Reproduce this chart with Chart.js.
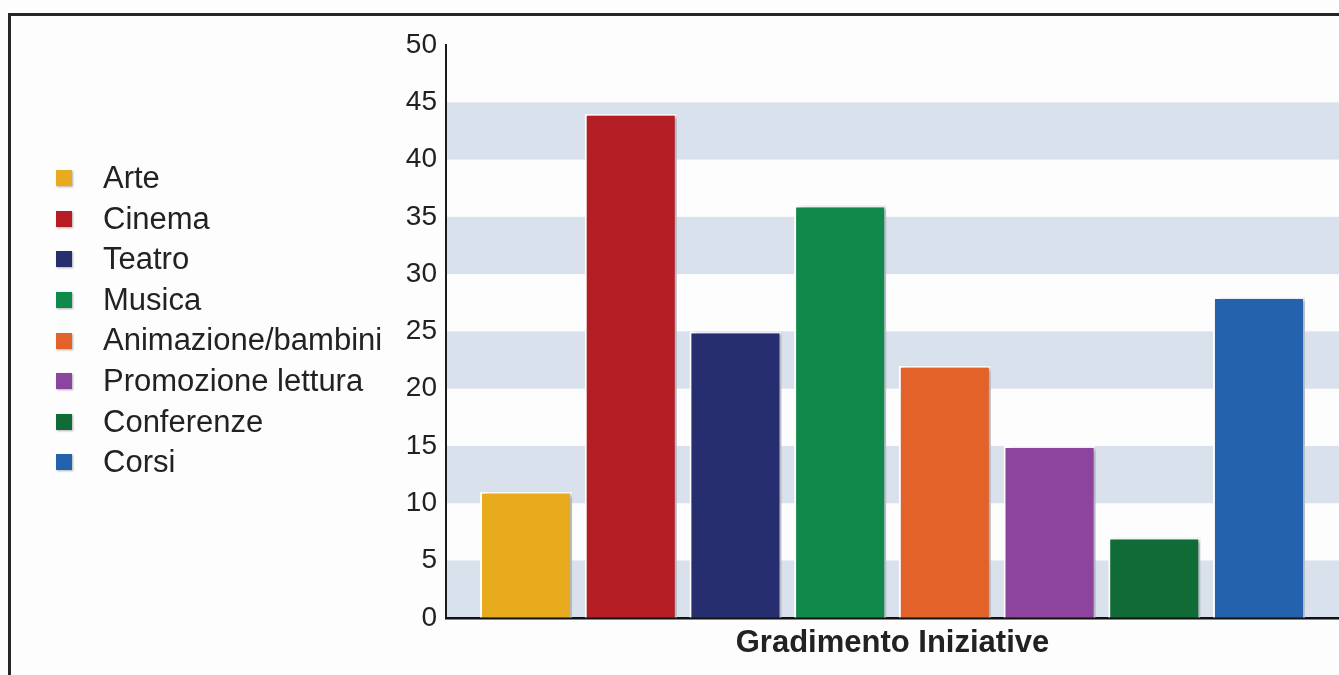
<!DOCTYPE html>
<html lang="it">
<head>
<meta charset="utf-8">
<title>Gradimento Iniziative</title>
<script src="https://cdn.jsdelivr.net/npm/chart.js@4/dist/chart.umd.min.js"></script>
<style>
  html, body { margin: 0; padding: 0; background: #fdfdfd; }
  #wrap { position: relative; width: 1339px; height: 675px; overflow: hidden; }
  #frame {
    position: absolute; left: 8px; top: 13px; right: -10px; bottom: -10px;
    border-top: 3px solid #262626; border-left: 3px solid #262626;
  }
  #grafico { position: absolute; left: 0; top: 0; }
  #legenda {
    position: absolute; left: 56px; top: 158px; margin: 0; padding: 0; list-style: none;
    font-family: "Liberation Sans", Arial, sans-serif; font-size: 31px; color: #222;
  }
  #legenda li { height: 40.6px; line-height: 40.6px; display: flex; align-items: center; white-space: nowrap; }
  #legenda span.box {
    display: inline-block; width: 16px; height: 16px; margin-right: 31px;
    box-shadow: 1px 1px 2px rgba(0, 0, 0, 0.3);
  }
</style>
</head>
<body>
<div id="wrap">
  <div id="frame"></div>
  <canvas id="grafico" width="1339" height="675"></canvas>
  <ul id="legenda"></ul>
</div>
<script>
// categorie e valori
const gruppi = ['Gradimento Iniziative'];
const iniziative = ['Arte', 'Cinema', 'Teatro', 'Musica', 'Animazione/bambini', 'Promozione lettura', 'Conferenze', 'Corsi'];
const gradimento = [11, 44, 25, 36, 22, 15, 7, 28];
const colori = ['#e8ab1e', '#b51d24', '#262e70', '#11894a', '#e2622a', '#8c449c', '#106b36', '#2562ae'];

const fascia = '#d8e1ec';

// fasce alternate dietro le barre (0-5, 10-15, ...)
const fascePlugin = {
    id: 'fasce',
    beforeDraw(chart) {
        const { ctx, chartArea } = chart;
        const y = chart.scales.y;
        ctx.save();
        ctx.fillStyle = fascia;
        for (let v = 0; v < y.max; v += 10) {
            const top = y.getPixelForValue(v + 5);
            const bottom = y.getPixelForValue(v);
            ctx.fillRect(chartArea.left, top, chartArea.right - chartArea.left, bottom - top);
        }
        ctx.restore();
    }
};

// ombra leggera sulle barre
const ombraPlugin = {
    id: 'ombra',
    beforeDatasetsDraw(chart) {
        const ctx = chart.ctx;
        ctx.save();
        ctx.shadowColor = 'rgba(60, 70, 95, 0.4)';
        ctx.shadowOffsetX = 4;
        ctx.shadowOffsetY = 1;
        ctx.shadowBlur = 4;
    },
    afterDatasetsDraw(chart) {
        chart.ctx.restore();
    }
};

const datasets = iniziative.map((nome, i) => ({
    label: nome,
    data: [gradimento[i]],
    backgroundColor: colori[i],
    borderColor: '#ffffff',
    borderWidth: 2,
    categoryPercentage: 0.938,
    barPercentage: 0.879
}));

// legenda html a sinistra
const legenda = document.getElementById('legenda');
iniziative.forEach((nome, i) => {
    const li = document.createElement('li');
    const box = document.createElement('span');
    box.className = 'box';
    box.style.background = colori[i];
    li.appendChild(box);
    li.appendChild(document.createTextNode(nome));
    legenda.appendChild(li);
});

new Chart(document.getElementById('grafico').getContext('2d'), {
    type: 'bar',
    data: { labels: gruppi, datasets: datasets },
    options: {
        responsive: false,
        animation: false,
        layout: { padding: { left: 386, top: 45, right: 0, bottom: 6 } },
        plugins: {
            legend: { display: false },
            tooltip: { enabled: false }
        },
        scales: {
            x: {
                grid: { display: false, drawTicks: false },
                border: { display: true, color: '#111', width: 2.5 },
                ticks: {
                    color: '#222',
                    padding: 7,
                    font: { family: '"Liberation Sans", Arial, sans-serif', size: 31, weight: 'bold' }
                }
            },
            y: {
                min: 0,
                max: 50,
                afterFit(scale) { scale.width = 60; },
                grid: { display: false, drawTicks: false },
                border: { display: true, color: '#1a1a1a', width: 2 },
                ticks: {
                    stepSize: 5,
                    color: '#222',
                    padding: 9,
                    font: { family: '"Liberation Sans", Arial, sans-serif', size: 28 }
                }
            }
        }
    },
    plugins: [fascePlugin, ombraPlugin]
});
</script>
</body>
</html>
